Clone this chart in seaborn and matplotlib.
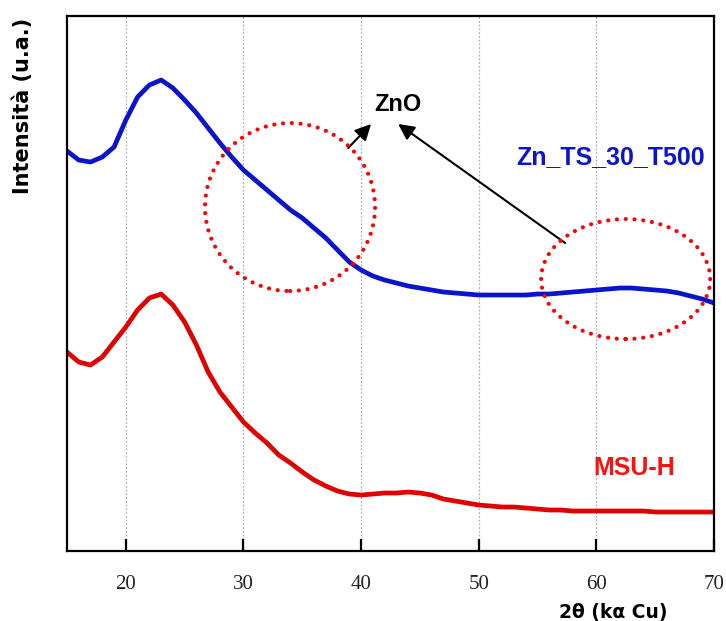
import matplotlib
matplotlib.use("Agg")
import matplotlib.pyplot as plt
import seaborn as sns
import pandas as pd
from matplotlib.patches import Ellipse

two_theta = list(range(15, 71))
# intensities (a.u.)
zn_ts_30_t500 = [400, 391, 389, 394, 404, 431, 454, 466, 471, 463, 451, 438, 423, 408,
                 394, 381, 371, 361, 351, 341, 333, 323, 313, 301, 289, 281, 275, 271,
                 268, 265, 263, 261, 259, 258, 257, 256, 256, 256, 256, 256, 257, 257,
                 258, 259, 260, 261, 262, 263, 263, 262, 261, 260, 258, 255, 252, 248]
msu_h = [199, 189, 186, 194, 209, 224, 241, 253, 257, 246, 229, 206, 179, 159,
         144, 129, 118, 108, 96, 88, 79, 71, 65, 60, 57, 56, 57, 58,
         58, 59, 58, 56, 52, 50, 48, 46, 45, 44, 44, 43, 42, 41,
         41, 40, 40, 40, 40, 40, 40, 40, 39, 39, 39, 39, 39, 39]

series_names = ["Zn_TS_30_T500", "MSU-H"]
series_colors = ["#0A14CC", "#E00000"]

df = pd.concat([
    pd.DataFrame({"2theta": two_theta, "I": zn_ts_30_t500, "campione": series_names[0]}),
    pd.DataFrame({"2theta": two_theta, "I": msu_h, "campione": series_names[1]}),
])

sns.set_style("white")
plt.rcParams["font.family"] = ["Liberation Sans", "DejaVu Sans"]
plt.rcParams["text.color"] = "black"
plt.rcParams["axes.labelcolor"] = "black"

fig = plt.figure(figsize=(7.26, 6.21), dpi=100)
ax = fig.add_axes([0.0923, 0.1127, 0.8912, 0.8615])

sns.lineplot(data=df, x="2theta", y="I", hue="campione", palette=series_colors,
             hue_order=series_names, linewidth=3.4, legend=False, ax=ax)

ax.set_xlim(15, 70)
ax.set_ylim(0, 535)
ax.set_xticks([20, 30, 40, 50, 60, 70])
ax.set_yticks([])
for gx in [20, 30, 40, 50, 60]:
    ax.axvline(gx, color="#b0b0b0", lw=0.9, ls=(0, (1.5, 1.5)), zorder=0)

for sp in ax.spines.values():
    sp.set_visible(True)
    sp.set_color("black")
    sp.set_linewidth(1.6)

ax.tick_params(axis="x", direction="in", length=9, width=1.6, pad=17,
               labelsize=15, bottom=True, colors="black", labelcolor="#222222")
for lab in ax.get_xticklabels():
    lab.set_fontfamily("Liberation Serif")

ax.set_xlabel("2θ (kα Cu)", fontsize=13.5, fontweight="bold", family="DejaVu Sans",
              color="black")
ax.xaxis.set_label_coords(0.844, -0.097)
ax.set_ylabel("Intensità (u.a.)", fontsize=15, fontweight="bold", family="DejaVu Sans",
              color="black")
ax.yaxis.set_label_coords(-0.069, 0.832)
ax.yaxis.label.set_va("center")

# annotations
ax.text(43.1, 447, "ZnO", fontsize=17, fontweight="bold", ha="center", va="center",
        color="black")
ax.text(61.2, 394, "Zn_TS_30_T500", fontsize=18, fontweight="bold",
        color="#0A14CC", ha="center", va="center")
ax.text(63.2, 83, "MSU-H", fontsize=18, fontweight="bold",
        color="#FF1010", ha="center", va="center")

arrow = dict(arrowstyle="-|>", color="black", lw=1.5, mutation_scale=24, shrinkA=0, shrinkB=0)
ax.annotate("", xy=(40.85, 427), xytext=(38.9, 403), arrowprops=arrow)
ax.annotate("", xy=(43.15, 427), xytext=(57.35, 308), arrowprops=arrow)

for cx, cy, w, h in [(33.96, 344, 14.46, 168), (62.49, 272, 14.37, 120)]:
    e = Ellipse((cx, cy), w, h, fill=False, edgecolor="#FF0000", lw=3.0,
                linestyle=(0, (0.01, 2.1)), capstyle="round", zorder=5)
    ax.add_patch(e)

fig.savefig("out.png", dpi=100)
